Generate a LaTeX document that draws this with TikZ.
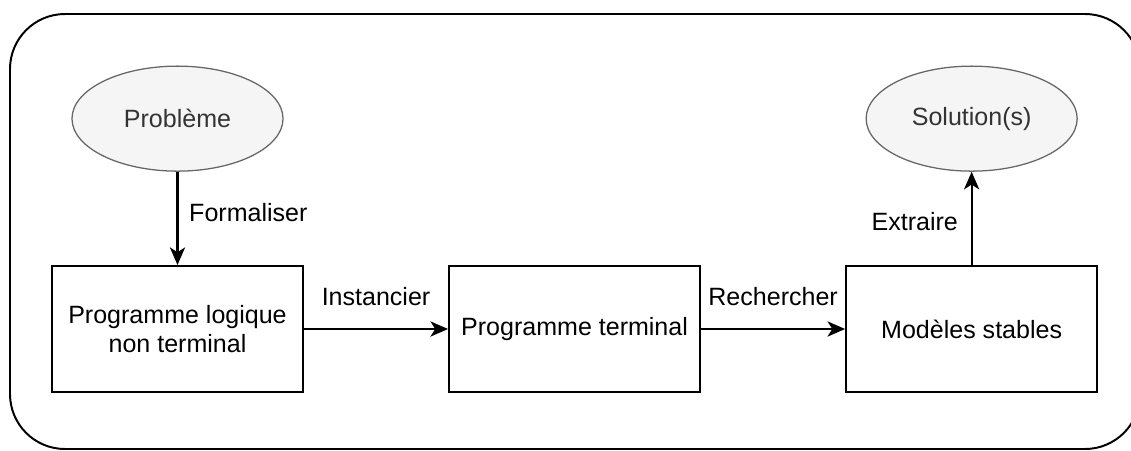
\documentclass[tikz,border=0pt]{standalone}
\usepackage{fontspec}
\setmainfont{Liberation Sans}
\usepackage{xcolor}
\usetikzlibrary{arrows.meta, positioning, shapes.geometric}

\definecolor{blobline}{HTML}{666666}
\definecolor{blobfill}{HTML}{F5F5F5}
\definecolor{blobtext}{HTML}{333333}

\begin{document}
\begin{tikzpicture}[
      x=0.025cm, y=-0.025cm,
      font=\fontsize{17.8pt}{20.2pt}\selectfont,
      box/.style={draw, line width=1.4pt, minimum width=6.275cm,
                  minimum height=3.15cm, align=center, inner sep=0pt},
      blob/.style={ellipse, draw=blobline, fill=blobfill, text=blobtext,
                   line width=0.9pt, minimum width=5.275cm, minimum height=2.625cm,
                   inner sep=0pt},
      arr/.style={-{Stealth[length=0.44cm, width=0.38cm, inset=0.12cm]}, line width=1.5pt}
    ]
      \useasboundingbox (0,0) rectangle (1131,450);
      \clip (0,0) rectangle (1131,450);
      \draw[line width=1.4pt, rounded corners=1.375cm] (10,14) rectangle (1140,449);

      \node[box] (logic) at (177.5,329) {Programme logique\\non terminal};
      \node[box, right=3.6cm of logic] (ground) {Programme terminal};
      \node[box, right=3.6cm of ground] (stable) {Modèles stables};
      \node[blob, above=2.33cm of logic] (problem) {Problème};
      \node[blob, above=2.33cm of stable] (solution) {Solution(s)};

      \draw[arr] (problem) -- node[right, xshift=0.15cm, yshift=0.15cm] {Formaliser} (logic);
      \draw[arr] (logic) -- node[above=0.45cm] {Instancier} (ground);
      \draw[arr] (ground) -- node[above=0.45cm] {Rechercher} (stable);
      \draw[arr] (stable) -- node[left, xshift=-0.2cm, yshift=-0.08cm] {Extraire} (solution);
    \end{tikzpicture}
\end{document}
